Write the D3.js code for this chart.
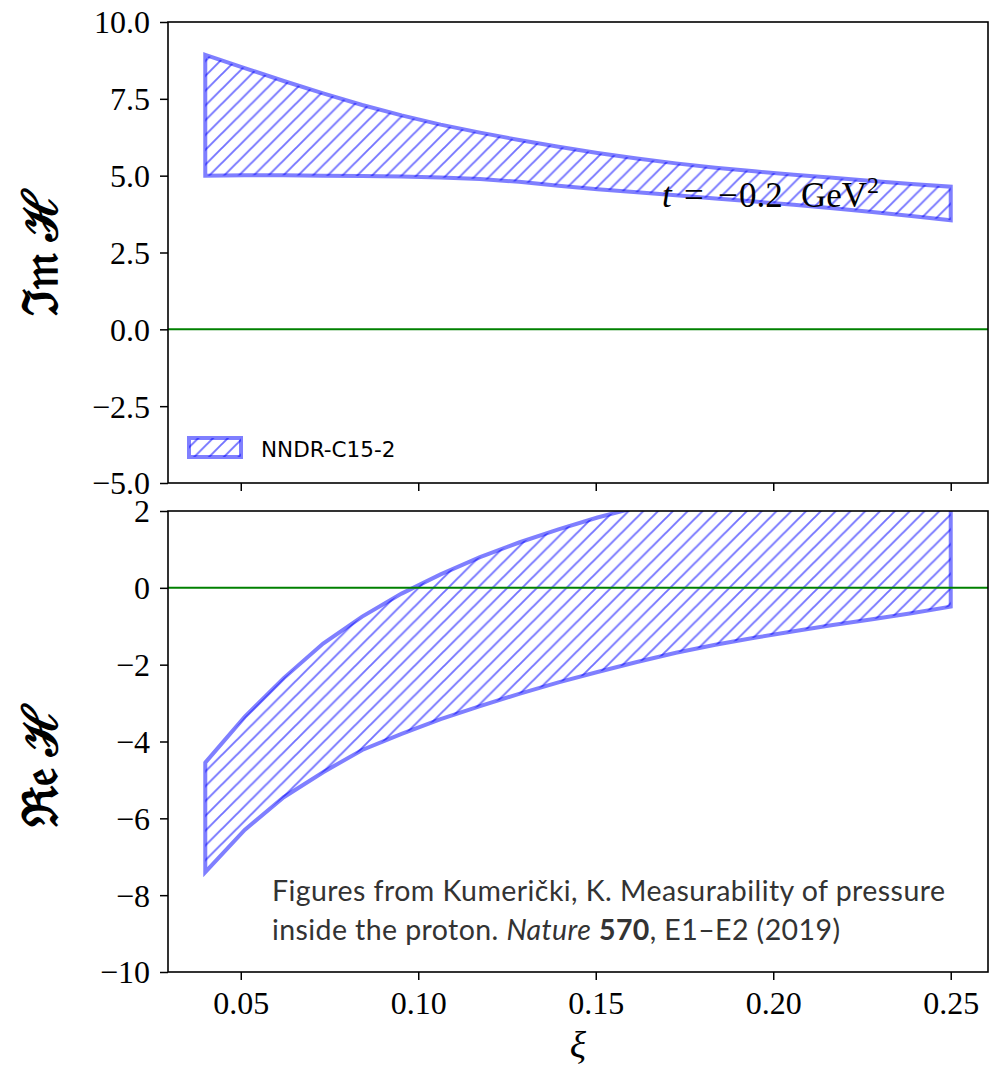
<!DOCTYPE html>
<html>
<head>
<meta charset="utf-8">
<script src="https://cdn.jsdelivr.net/npm/d3@7"></script>
<style>
  body { margin: 0; background: #fff; }
  svg { display: block; }
</style>
</head>
<body>
<svg id="chart" width="1000" height="1074"></svg>
<script>
// xi grid of the model curves
const xiValues = [0.0400, 0.0511, 0.0621, 0.0732, 0.0842, 0.0953, 0.1063, 0.1174, 0.1284, 0.1395,
                  0.1505, 0.1616, 0.1726, 0.1837, 0.1947, 0.2058, 0.2168, 0.2279, 0.2389, 0.2500];
// Im H band (t = -0.2 GeV^2)
const imUpper = [8.93, 8.50, 8.08, 7.68, 7.30, 6.96, 6.66, 6.40, 6.16, 5.94,
                 5.74, 5.56, 5.40, 5.26, 5.14, 5.03, 4.93, 4.83, 4.73, 4.64];
const imLower = [5.00, 5.01, 5.01, 5.00, 4.99, 4.97, 4.94, 4.89, 4.80, 4.67,
                 4.56, 4.46, 4.36, 4.26, 4.16, 4.05, 3.94, 3.82, 3.69, 3.55];
// Re H band
const reUpper = [-4.55, -3.36, -2.35, -1.45, -0.75, -0.15, 0.35, 0.80, 1.18, 1.52,
                 1.83, 2.10, 2.35, 2.58, 2.80, 3.00, 3.20, 3.38, 3.55, 3.70];
const reLower = [-7.40, -6.30, -5.45, -4.80, -4.22, -3.80, -3.42, -3.08, -2.76, -2.46,
                 -2.19, -1.93, -1.69, -1.48, -1.30, -1.13, -0.97, -0.82, -0.66, -0.49];

const xTicks = [0.05, 0.10, 0.15, 0.20, 0.25];
const imTicks = [-5, -2.5, 0, 2.5, 5, 7.5, 10];
const reTicks = [-10, -8, -6, -4, -2, 0, 2];
const seriesName = "NNDR-C15-2";

const svg = d3.select("#chart");
const band = "rgba(0,0,255,0.5)";
const serif = "'Liberation Serif', 'DejaVu Serif', serif";
const minus = (s) => s.replace("-", "\u2212");

const left = 168, right = 988;
const x = d3.scaleLinear().domain([0.0295, 0.2605]).range([left, right]);

// hatch pattern "///"
const defs = svg.append("defs");
const hs = 14.8;
defs.append("pattern")
  .attr("id", "hatch")
  .attr("patternUnits", "userSpaceOnUse")
  .attr("width", hs).attr("height", hs)
  .append("path")
  .attr("d", `M0,${hs} L${hs},0 M${-hs / 4},${hs / 4} L${hs / 4},${-hs / 4} M${hs * 0.75},${hs * 1.25} L${hs * 1.25},${hs * 0.75}`)
  .attr("stroke", "rgba(0,0,255,0.55)")
  .attr("stroke-width", 1.9)
  .attr("fill", "none");

const panels = [
  { id: "im", top: 22, bottom: 483, domain: [-5, 10], ticks: imTicks, fmt: (d) => minus(d3.format(".1f")(d)),
    upper: imUpper, lower: imLower, label: "\u2111\uD835\uDD2A \u210B", labelY: 253, xLabels: false },
  { id: "re", top: 511, bottom: 972, domain: [-10, 2], ticks: reTicks, fmt: (d) => minus(d3.format("d")(d)),
    upper: reUpper, lower: reLower, label: "\u211C\uD835\uDD22 \u210B", labelY: 766, xLabels: true },
];

panels.forEach((p) => {
  const y = d3.scaleLinear().domain(p.domain).range([p.bottom, p.top]);
  const g = svg.append("g");

  defs.append("clipPath").attr("id", `clip-${p.id}`)
    .append("rect")
    .attr("x", left).attr("y", p.top)
    .attr("width", right - left).attr("height", p.bottom - p.top);

  // band: upper edge forward, lower edge back
  const pts = xiValues.map((d, i) => [x(d), y(p.upper[i])])
    .concat(xiValues.map((d, i) => [x(d), y(p.lower[i])]).reverse());
  g.append("path")
    .attr("clip-path", `url(#clip-${p.id})`)
    .attr("d", d3.line()(pts) + "Z")
    .attr("fill", "url(#hatch)")
    .attr("stroke", band)
    .attr("stroke-width", 4)
    .attr("stroke-linejoin", "miter");

  // zero line
  g.append("line")
    .attr("x1", left).attr("x2", right)
    .attr("y1", y(0)).attr("y2", y(0))
    .attr("stroke", "#008000")
    .attr("stroke-width", 2);

  // y axis
  const ya = g.append("g")
    .attr("transform", `translate(${left},0)`)
    .call(d3.axisLeft(y).tickValues(p.ticks).tickSize(8).tickPadding(10).tickFormat(p.fmt));
  ya.select(".domain").remove();
  ya.selectAll(".tick line").attr("stroke-width", 1.5);
  ya.selectAll(".tick text").attr("font-family", serif).attr("font-size", 32).attr("fill", "#000").attr("dy", "0.34em");

  // x axis
  const xa = g.append("g")
    .attr("transform", `translate(0,${p.bottom})`)
    .call(d3.axisBottom(x).tickValues(xTicks).tickSize(8).tickPadding(11).tickFormat(d3.format(".2f")));
  xa.select(".domain").remove();
  xa.selectAll(".tick line").attr("stroke-width", 1.5);
  xa.selectAll(".tick text").attr("font-family", serif).attr("font-size", 32).attr("fill", "#000")
    .style("display", p.xLabels ? null : "none");

  // frame
  g.append("rect")
    .attr("x", left).attr("y", p.top)
    .attr("width", right - left).attr("height", p.bottom - p.top)
    .attr("fill", "none").attr("stroke", "#000").attr("stroke-width", 1.6);

  // y label
  g.append("text")
    .attr("transform", `translate(57,${p.labelY}) rotate(-90)`)
    .attr("text-anchor", "middle")
    .attr("font-family", serif)
    .attr("font-weight", "bold")
    .attr("font-size", 48)
    .text(p.label);
});

// legend (top panel)
svg.append("rect")
  .attr("x", 189).attr("y", 438).attr("width", 52).attr("height", 19)
  .attr("fill", "url(#hatch)").attr("stroke", band).attr("stroke-width", 4);
svg.append("text")
  .attr("x", 261).attr("y", 457)
  .attr("font-family", "'DejaVu Sans', sans-serif")
  .attr("font-size", 21.5)
  .text(seriesName);

// annotation t = -0.2 GeV^2
const ann = svg.append("text")
  .attr("y", 207)
  .attr("font-family", serif)
  .attr("font-size", 35);
ann.append("tspan").attr("x", 662).attr("font-style", "italic").text("t");
ann.append("tspan").attr("x", 684).text("=");
ann.append("tspan").attr("x", 718).text("\u2212");
ann.append("tspan").attr("x", 739).text("0.2");
ann.append("tspan").attr("x", 801).text("GeV");
ann.append("tspan").attr("dy", -14).attr("font-size", 24).text("2");

// x label
svg.append("text")
  .attr("x", (left + right) / 2).attr("y", 1058)
  .attr("text-anchor", "middle")
  .attr("font-family", serif)
  .attr("font-style", "italic")
  .attr("font-size", 38)
  .text("\u03BE");

// citation
const cite = svg.append("g")
  .attr("font-family", "Lato, 'Open Sans', sans-serif")
  .attr("font-size", 28.5)
  .attr("fill", "#333");
cite.append("text").attr("x", 272).attr("y", 901)
  .attr("textLength", 673).attr("lengthAdjust", "spacing")
  .text("Figures from Kumeri\u010Dki, K. Measurability of pressure");
const l2 = cite.append("text").attr("x", 272).attr("y", 940)
  .attr("textLength", 568).attr("lengthAdjust", "spacing");
l2.append("tspan").text("inside the proton. ");
l2.append("tspan").attr("font-style", "italic").text("Nature");
l2.append("tspan").text(" ");
l2.append("tspan").attr("font-weight", "bold").text("570");
l2.append("tspan").text(", E1\u2013E2 (2019)");
</script>
</body>
</html>
